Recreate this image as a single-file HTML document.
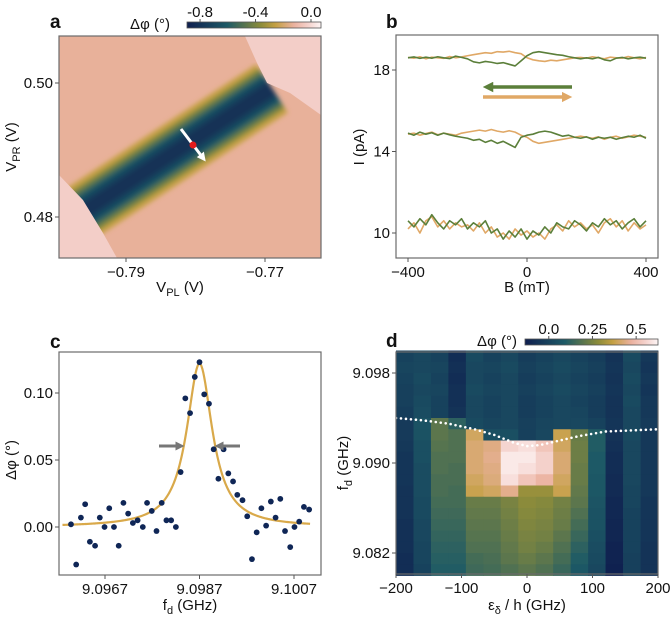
<!DOCTYPE html>
<html><head><meta charset="utf-8"><style>
body{margin:0;background:#fff}
svg text{font-family:"Liberation Sans",Arial,sans-serif;fill:#111}
</style></head><body>
<svg id="fig" width="672" height="616" viewBox="0 0 672 616" xmlns="http://www.w3.org/2000/svg">
<defs>
<clipPath id="clipA"><rect x="59" y="36" width="262" height="222"/></clipPath>
<filter id="blurA" x="-20%" y="-20%" width="140%" height="140%"><feGaussianBlur stdDeviation="2.5"/></filter>
<linearGradient id="cbar" x1="0" x2="1" y1="0" y2="0">
<stop offset="0" stop-color="#0f1f4f"/><stop offset="0.3" stop-color="#1d5a66"/><stop offset="0.55" stop-color="#8c8c3a"/><stop offset="0.66" stop-color="#c4a043"/><stop offset="0.8" stop-color="#ebb2a0"/><stop offset="0.9" stop-color="#f4d0ca"/><stop offset="1" stop-color="#fdf5f5"/>
</linearGradient>
<marker id="ah" viewBox="0 0 10 10" refX="5" refY="5" markerWidth="3" markerHeight="3" orient="auto"><path d="M0,0 L10,5 L0,10 z" fill="context-stroke"/></marker>
</defs>
<g id="pa"></g>
<g id="pb"></g>
<g id="pc"></g>
<g id="pd"></g>
</svg>
<script>
// ---------- data ----------
// panel a (data units, V)
const aBandStart=[-0.7970,0.4802];
const aBandEnd=[-0.7690,0.4992];
const aBandLevels=[-0.25,-0.38,-0.5,-0.62,-0.72,-0.8];
const aBackground=-0.13;
const aWhiteTR=[[-0.77288,0.5070],[-0.76194,0.5070],[-0.76194,0.49522],[-0.7664,0.49851],[-0.7697,0.5000],[-0.77115,0.50299]];
const aWhiteBL=[[-0.79964,0.48627],[-0.79619,0.48254],[-0.79331,0.47761],[-0.7913,0.47388],[-0.79964,0.47388]];
const aDot=[-0.78036,0.49075];
const aXTicks=[-0.79,-0.77], aXTickLabels=["\u22120.79","\u22120.77"];
const aYTicks=[0.48,0.50], aYTickLabels=["0.48","0.50"];
const aCbTicks=[-0.8,-0.4,0.0], aCbTickLabels=["-0.8","-0.4","0.0"];
// panel b
const bField=[];for(let i=0;i<41;i++)bField.push(-400+20*i);
const bTopOrange=[18.62,18.58,18.65,18.55,18.63,18.6,18.57,18.66,18.6,18.64,18.7,18.75,18.8,18.85,18.82,18.9,18.88,18.92,18.85,18.8,18.6,18.5,18.45,18.42,18.48,18.45,18.5,18.55,18.6,18.62,18.58,18.65,18.6,18.55,18.63,18.6,18.58,18.66,18.6,18.55,18.62];
const bTopGreen=[18.6,18.64,18.57,18.63,18.58,18.65,18.6,18.56,18.68,18.62,18.55,18.4,18.35,18.42,18.38,18.32,18.36,18.28,18.2,18.45,18.7,18.85,18.9,18.85,18.8,18.75,18.72,18.65,18.6,18.55,18.6,18.55,18.62,18.5,18.45,18.58,18.62,18.55,18.6,18.63,18.58];
const bMidOrange=[14.85,14.9,14.8,14.88,14.95,14.82,14.9,14.85,14.8,14.9,14.95,15.0,15.05,15.0,15.08,15.0,14.95,15.02,14.95,14.8,14.7,14.5,14.4,14.45,14.5,14.55,14.6,14.65,14.7,14.75,14.7,14.65,14.72,14.6,14.7,14.75,14.65,14.72,14.8,14.75,14.7];
const bMidGreen=[14.9,14.8,14.95,14.85,14.92,14.8,14.9,14.82,14.75,14.7,14.65,14.55,14.6,14.45,14.55,14.4,14.5,14.35,14.2,14.7,14.8,14.85,14.95,15.0,14.95,14.85,14.75,14.8,14.7,14.65,14.72,14.6,14.7,14.65,14.7,14.6,14.68,14.75,14.7,14.8,14.65];
const bBotOrange=[10.2,10.5,10.0,10.6,10.8,10.3,10.6,10.2,10.5,10.3,10.4,10.1,10.5,10.0,10.3,9.8,10.0,9.7,10.2,9.9,10.1,9.8,10.0,9.7,10.2,10.4,10.1,10.6,10.3,10.5,10.2,10.4,10.0,10.5,10.7,10.3,10.6,10.1,10.5,10.2,10.4];
const bBotGreen=[10.6,10.3,10.7,10.4,10.9,10.5,10.2,10.6,10.4,10.7,10.2,10.5,10.3,10.6,10.0,10.2,9.7,10.1,9.8,10.2,9.7,10.1,9.9,10.3,10.0,10.5,10.3,10.2,10.6,10.4,10.1,10.5,10.3,10.7,10.4,10.6,10.2,10.5,10.7,10.3,10.6];
const bXTicks=[-400,0,400], bXTickLabels=["\u2212400","0","400"];
const bYTicks=[10,14,18], bYTickLabels=["10","14","18"];
// panel c
const cFreq=[9.09598,9.09609,9.09619,9.09628,9.09638,9.09649,9.09659,9.09669,9.09679,9.09689,9.09699,9.09709,9.09719,9.09729,9.09739,9.0975,9.09759,9.09769,9.09779,9.0979,9.098,9.0981,9.0982,9.0983,9.0984,9.0985,9.0986,9.0987,9.0988,9.0989,9.099,9.0991,9.09921,9.09931,9.09941,9.0995,9.09961,9.09971,9.09981,9.09991,9.10001,9.10011,9.10021,9.10031,9.10041,9.10051,9.10062,9.10071,9.10081,9.10091,9.10102];
const cPhase=[0.002,-0.028,0.007,0.017,-0.011,-0.014,0.007,0.0,0.014,0.0,-0.014,0.018,0.01,0.003,0.005,0.0,0.018,0.012,-0.003,0.018,0.005,0.005,0.0,0.041,0.096,0.085,0.112,0.123,0.099,0.092,0.058,0.036,0.058,0.04,0.034,0.024,0.02,0.008,-0.024,-0.004,0.014,0.001,0.019,0.007,0.021,-0.003,-0.015,0.0,0.004,0.015,0.013];
const cFitCenter=[9.0987], cFitAmp=[0.122], cFitHalfWidth=[0.00033];
const cXTicks=[9.0967,9.0987,9.1007], cXTickLabels=["9.0967","9.0987","9.1007"];
const cYTicks=[0,0.05,0.10], cYTickLabels=["0.00","0.05","0.10"];
// panel d
const dDetuning=[-186.7,-160,-133.3,-106.7,-80,-53.3,-26.7,0,26.7,53.3,80,106.7,133.3,160,186.7];
const dFreq=[];for(let r=0;r<20;r++)dFreq.push(9.0995-0.001*r);
const dValues=[
[0.00,0.02,0.00,-0.08,0.03,0.00,0.02,-0.02,0.00,0.02,0.00,-0.02,-0.06,0.03,-0.04],
[0.01,0.02,0.01,-0.07,0.02,0.01,0.03,-0.01,0.01,0.03,0.01,-0.01,-0.05,0.02,-0.05],
[0.00,0.03,0.00,-0.08,0.02,0.00,0.02,-0.02,0.00,0.02,0.00,-0.02,-0.06,0.03,-0.04],
[-0.01,0.02,0.01,-0.07,0.03,0.01,0.02,-0.01,0.01,0.03,0.01,-0.01,-0.05,0.02,-0.05],
[-0.01,0.03,0.00,-0.07,0.02,0.00,0.02,-0.02,0.00,0.02,0.00,-0.02,-0.06,0.03,-0.04],
[-0.02,0.04,0.00,-0.06,0.02,0.00,0.02,-0.02,0.00,0.02,0.01,-0.02,-0.06,0.02,-0.04],
[-0.03,0.06,0.20,0.12,0.03,0.01,0.02,-0.01,0.01,0.02,0.02,0.00,-0.05,0.02,-0.03],
[-0.03,0.06,0.20,0.18,0.40,0.05,0.05,-0.01,0.02,0.38,0.22,0.10,-0.06,0.03,-0.04],
[-0.04,0.05,0.19,0.18,0.42,0.44,0.56,0.58,0.52,0.40,0.23,0.10,-0.07,0.02,-0.04],
[-0.05,0.05,0.18,0.18,0.42,0.45,0.60,0.60,0.55,0.42,0.23,0.09,-0.08,0.02,-0.04],
[-0.05,0.04,0.18,0.17,0.42,0.44,0.60,0.58,0.55,0.42,0.22,0.09,-0.08,0.02,-0.04],
[-0.05,0.04,0.17,0.17,0.40,0.43,0.58,0.52,0.48,0.40,0.22,0.08,-0.09,0.02,-0.04],
[-0.06,0.04,0.17,0.16,0.38,0.40,0.45,0.30,0.30,0.38,0.21,0.08,-0.09,0.01,-0.04],
[-0.06,0.03,0.16,0.16,0.22,0.22,0.25,0.28,0.27,0.24,0.20,0.07,-0.10,0.01,-0.05],
[-0.06,0.03,0.15,0.15,0.21,0.21,0.24,0.27,0.26,0.23,0.18,0.06,-0.10,0.00,-0.05],
[-0.07,0.02,0.14,0.14,0.20,0.20,0.23,0.26,0.25,0.22,0.16,0.06,-0.11,0.00,-0.05],
[-0.07,0.02,0.13,0.13,0.19,0.19,0.22,0.25,0.24,0.20,0.14,0.05,-0.11,0.00,-0.05],
[-0.07,0.01,0.12,0.12,0.18,0.18,0.21,0.24,0.22,0.18,0.12,0.04,-0.12,0.00,-0.06],
[-0.08,0.01,0.11,0.11,0.16,0.17,0.20,0.22,0.20,0.16,0.10,0.03,-0.12,-0.01,-0.06],
[-0.08,0.00,0.10,0.10,0.15,0.16,0.18,0.20,0.18,0.14,0.08,0.02,-0.13,-0.01,-0.06]];
const dResDetuning=[-200,-160,-120,-80,-50,-20,0,20,50,80,120,160,200];
const dResFreq=[9.0940,9.0938,9.0935,9.0930,9.0925,9.0918,9.0915,9.0916,9.0920,9.0924,9.0928,9.0929,9.0930];
const dXTicks=[-200,-100,0,100,200], dXTickLabels=["\u2212200","\u2212100","0","100","200"];
const dYTicks=[9.082,9.090,9.098], dYTickLabels=["9.082","9.090","9.098"];
const dCbTicks=[0.0,0.25,0.5], dCbTickLabels=["0.0","0.25","0.5"];

// ---------- helpers ----------
const NS="http://www.w3.org/2000/svg";
function mk(parent,tag,attrs,txt){const e=document.createElementNS(NS,tag);for(const k in attrs)e.setAttribute(k,attrs[k]);if(txt!==undefined)e.textContent=txt;parent.appendChild(e);return e;}
function lin(d0,d1,r0,r1){return v=>r0+(v-d0)/(d1-d0)*(r1-r0);}
const stops=[[0,[15,31,79]],[0.3,[29,90,102]],[0.55,[140,140,58]],[0.66,[196,160,67]],[0.8,[235,178,160]],[0.9,[244,208,202]],[1,[253,245,245]]];
function cmap(t){t=Math.max(0,Math.min(1,t));for(let i=1;i<stops.length;i++){if(t<=stops[i][0]){const a=stops[i-1],b=stops[i];const f=(t-a[0])/(b[0]-a[0]);const c=a[1].map((v,j)=>Math.round(v+(b[1][j]-v)*f));return `rgb(${c[0]},${c[1]},${c[2]})`;}}return "rgb(253,245,245)";}
function frame(g,x,y,w,h){const r=mk(g,'rect',{x:x,y:y,width:w,height:h,fill:'none',stroke:'#6b6b6b','stroke-width':1.2});}
function xTicks(g,ticks,labels,sx,yb,name){ticks.forEach((t,i)=>{const x=sx(t);mk(g,'line',{x1:x,x2:x,y1:yb,y2:yb+4,stroke:'#555'});const tx=mk(g,'text',{x:x,y:yb+19,'text-anchor':'middle','font-size':15},labels[i]);});}
function yTicks(g,ticks,labels,sy,xl,name){ticks.forEach((t,i)=>{const y=sy(t);mk(g,'line',{x1:xl-4,x2:xl,y1:y,y2:y,stroke:'#555'});const tx=mk(g,'text',{x:xl-6,y:y+5,'text-anchor':'end','font-size':15},labels[i]);});}
function label(g,x,y,html,name,rot){const t=mk(g,'text',{x:x,y:y,'text-anchor':'middle','font-size':15});t.innerHTML=html;if(rot)t.setAttribute('transform',`rotate(-90 ${x} ${y})`);return t;}
function letter(g,x,y,s){const t=mk(g,'text',{x:x,y:y,'font-size':19,'font-weight':'bold'},s);}
function colorbar(g,x,y,w,h,vmin,vmax,ticks,labels){const r=mk(g,'rect',{x:x,y:y,width:w,height:h,fill:'url(#cbar)',stroke:'#555','stroke-width':0.8});const s=lin(vmin,vmax,x,x+w);ticks.forEach((t,i)=>{mk(g,'line',{x1:s(t),x2:s(t),y1:y-3,y2:y,stroke:'#555'});const tx=mk(g,'text',{x:s(t),y:y-5,'text-anchor':'middle','font-size':15},labels[i]);});}

// ---------- panel a ----------
(function(){
const g=document.getElementById('pa');
const sx=lin(-0.79,-0.77,126,265), sy=lin(0.48,0.50,217,83);
const vmin=-0.894,vmax=0.072; const c=v=>cmap((v-vmin)/(vmax-vmin));
const clip=mk(g,'g',{'clip-path':'url(#clipA)'});
const bg=mk(clip,'rect',{x:59,y:36,width:262,height:222,fill:c(aBackground)});

const band=mk(clip,'g',{filter:'url(#blurA)'});
const widths=[58,48,40,32,24,14];
aBandLevels.forEach((v,i)=>{const l=mk(band,'line',{x1:sx(aBandStart[0]),y1:sy(aBandStart[1]),x2:sx(aBandEnd[0]),y2:sy(aBandEnd[1]),stroke:c(v),'stroke-width':widths[i],'stroke-linecap':'butt'});});
[aWhiteTR,aWhiteBL].forEach(poly=>{const p=mk(clip,'polygon',{points:poly.map(q=>sx(q[0])+','+sy(q[1])).join(' '),fill:c(-0.03)});});
const dx=sx(aDot[0]),dy=sy(aDot[1]);
const ar=mk(g,'line',{x1:dx-12,y1:dy-16,x2:dx+10,y2:dy+13,stroke:'#fff','stroke-width':3,'marker-end':'url(#ah)'});
const dot=mk(g,'circle',{cx:dx,cy:dy,r:3.5,fill:'#e31a1c'});
frame(g,59,36,262,222);
xTicks(g,aXTicks,aXTickLabels,sx,258,'x-axis');
yTicks(g,aYTicks,aYTickLabels,sy,59,'y-axis');
label(g,180,292,'V<tspan font-size="11" dy="4">PL</tspan><tspan dy="-4"> (V)</tspan>','x-axis-title');
label(g,16,147,'V<tspan font-size="11" dy="4">PR</tspan><tspan dy="-4"> (V)</tspan>','y-axis-title',true);
letter(g,50,28,'a');
label(g,150,29,'Δφ (°)','colorbar-title');
colorbar(g,187,22,134,6,vmin,vmax,aCbTicks,aCbTickLabels);
})();

// ---------- panel b ----------
(function(){
const g=document.getElementById('pb');
const sx=lin(-400,400,408,646), sy=lin(10,18,233,70);
const series=[[bTopOrange,'#e0a866','trace-18pA-up'],[bTopGreen,'#5b7f3a','trace-18pA-down'],[bMidOrange,'#e0a866','trace-14pA-up'],[bMidGreen,'#5b7f3a','trace-14pA-down'],[bBotOrange,'#e0a866','trace-10pA-up'],[bBotGreen,'#5b7f3a','trace-10pA-down']];
series.forEach(s=>{const p=mk(g,'polyline',{points:s[0].map((v,i)=>sx(bField[i])+','+sy(v)).join(' '),fill:'none',stroke:s[1],'stroke-width':1.6,'stroke-linejoin':'round'});});
const a1=mk(g,'line',{x1:572,y1:87,x2:488,y2:87,stroke:'#5b7f3a','stroke-width':3.5,'marker-end':'url(#ah)'});
const a2=mk(g,'line',{x1:483,y1:97,x2:567,y2:97,stroke:'#e0a866','stroke-width':3.5,'marker-end':'url(#ah)'});
frame(g,396,35,262,223);
xTicks(g,bXTicks,bXTickLabels,sx,258,'x-axis');
yTicks(g,bYTicks,bYTickLabels,sy,396,'y-axis');
label(g,527,292,'B (mT)','x-axis-title');
label(g,364,147,'I (pA)','y-axis-title',true);
letter(g,386,28,'b');
})();

// ---------- panel c ----------
(function(){
const g=document.getElementById('pc');
const sx=lin(9.0967,9.0987,105,199.5), sy=lin(0,0.10,527,393);
const fit=[];for(let f=9.0958;f<=9.10105;f+=0.00002)fit.push(f);
const fl=mk(g,'polyline',{points:fit.map(f=>sx(f)+','+sy(cFitAmp[0]/(1+Math.pow((f-cFitCenter[0])/cFitHalfWidth[0],2)))).join(' '),fill:'none',stroke:'#d9a94a','stroke-width':2.2});

cFreq.forEach((f,i)=>{const d=mk(g,'circle',{cx:sx(f),cy:sy(cPhase[i]),r:2.9,fill:'#0f2656'});});
const l=mk(g,'line',{x1:159,y1:446,x2:180,y2:446,stroke:'#777','stroke-width':3,'marker-end':'url(#ah)'});
const r=mk(g,'line',{x1:240,y1:446,x2:219,y2:446,stroke:'#777','stroke-width':3,'marker-end':'url(#ah)'});
frame(g,59,352,262,223);
xTicks(g,cXTicks,cXTickLabels,sx,575,'x-axis');
yTicks(g,cYTicks,cYTickLabels,sy,59,'y-axis');
label(g,190,610,'f<tspan font-size="11" dy="4">d</tspan><tspan dy="-4"> (GHz)</tspan>','x-axis-title');
label(g,16,460,'Δφ (°)','y-axis-title',true);
letter(g,50,348,'c');
})();

// ---------- panel d ----------
(function(){
const g=document.getElementById('pd');
const sx=lin(-200,200,396,658), sy=lin(9.090,9.098,463,373);
const vmin=-0.136,vmax=0.625;const c=v=>cmap((v-vmin)/(vmax-vmin));
const cw=sx(26.667)-sx(0), rh=sy(9.089)-sy(9.090);
dValues.forEach((row,r)=>row.forEach((v,k)=>{const cell=mk(g,'rect',{x:sx(dDetuning[k])-cw/2,y:sy(dFreq[r])-rh/2,width:cw+0.4,height:rh+0.4,fill:c(v)});}));
const dl=mk(g,'polyline',{points:dResDetuning.map((d,i)=>sx(d)+','+sy(dResFreq[i])).join(' '),fill:'none',stroke:'#fff','stroke-width':2.6,'stroke-dasharray':'0 5','stroke-linecap':'round'});

frame(g,396,352,262,222);
xTicks(g,dXTicks,dXTickLabels,sx,574,'x-axis');
yTicks(g,dYTicks,dYTickLabels,sy,396,'y-axis');
label(g,527,610,'ε<tspan font-size="11" dy="4">δ</tspan><tspan dy="-4"> / h (GHz)</tspan>','x-axis-title');
label(g,348,463,'f<tspan font-size="11" dy="4">d</tspan><tspan dy="-4"> (GHz)</tspan>','y-axis-title',true);
letter(g,386,347,'d');
label(g,497,346,'Δφ (°)','colorbar-title');
colorbar(g,525,339,133,6,vmin,vmax,dCbTicks,dCbTickLabels);
})();
</script>
</body></html>
